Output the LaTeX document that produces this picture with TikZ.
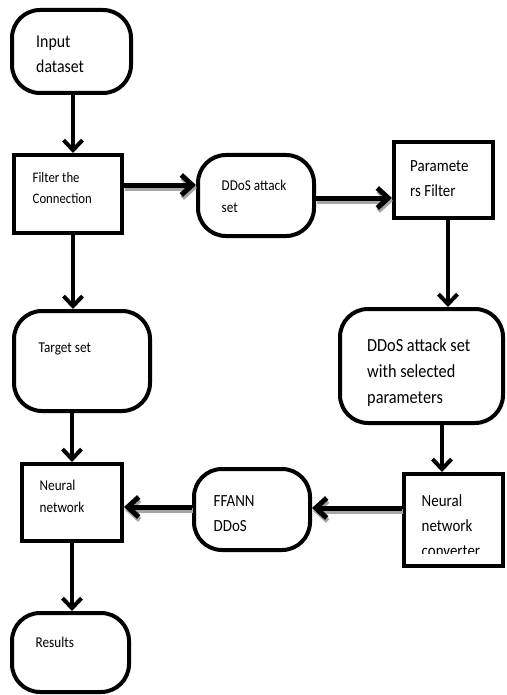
\documentclass[tikz,border=0pt]{standalone}
\usepackage{fontspec}
\setmainfont{Carlito}[FakeStretch=0.88]
\usetikzlibrary{arrows.meta}
\newcommand\myfs[2]{\fontsize{#1}{#2}\selectfont}
\begin{document}
\begin{tikzpicture}[x=1pt,y=-1pt,
  rbox/.style={draw, line width=4pt, rounded corners=28pt, inner sep=0pt},
  sbox/.style={draw, line width=4pt, inner sep=0pt},
  lbl/.style={anchor=base west, inner sep=0pt, align=left},
  varr/.style={line width=4pt, -{Straight Barb[length=10pt,width=19pt]}},
  harr/.style={line width=5pt, -{Straight Barb[length=11pt,width=20pt]}},
  hshadow/.style={harr, draw=black!35, transform canvas={xshift=1pt,yshift=-3pt}}
]
\fill[white] (0,0) rectangle (506,695);
\useasboundingbox (0,0) rectangle (506,695);

% boxes
\node[rbox, minimum width=119pt, minimum height=83pt] (inp) at (71.5,51.5) {};
\node[sbox, minimum width=108pt, minimum height=78pt] (filt) at (68,194) {};
\node[rbox, minimum width=116pt, minimum height=81pt] (ddos) at (256,195.5) {};
\node[sbox, minimum width=99pt, minimum height=76pt] (param) at (443.5,180) {};
\node[rbox, minimum width=136pt, minimum height=100pt] (target) at (82,361) {};
\node[rbox, minimum width=163pt, minimum height=114pt] (dsel) at (421.5,366) {};
\node[sbox, minimum width=100pt, minimum height=77pt] (nn) at (72,502.5) {};
\node[rbox, minimum width=116pt, minimum height=81pt] (ffann) at (252,509.5) {};
\node[sbox, minimum width=99pt, minimum height=92pt] (conv) at (453.5,520) {};
\node[rbox, minimum width=117pt, minimum height=79pt] (res) at (70.5,652.5) {};

% texts (anchor = baseline of the last line)
\node[lbl, font=\myfs{18}{25}] (tinp) at (36,73) {Input\\dataset};
\node[lbl, font=\myfs{14.5}{21}] (tfilt) at (32.5,203.5) {Filter the\\Connection};
\node[lbl, font=\myfs{15}{22}] (tddos) at (221.5,212) {DDoS attack\\set};
\node[lbl, font=\myfs{17}{24.5}] (tparam) at (410,196) {Paramete\\rs Filter};
\node[lbl, font=\myfs{15}{22}] (ttarget) at (38.5,352.5) {Target set};
\node[lbl, font=\myfs{18.5}{26}] (tdsel) at (367,403.5) {DDoS attack set\\with selected\\parameters};
\node[lbl, font=\myfs{15}{22.7}] (tnn) at (39.5,512.7) {Neural\\network};
\node[lbl, font=\myfs{17}{25}] (tffann) at (213.5,531) {FFANN\\DDoS};
\begin{scope}
  \clip (402,472) rectangle (505,553.5);
  \node[lbl, font=\myfs{17}{25}] (tconv) at (421.5,556) {Neural\\network\\converter};
\end{scope}
\node[lbl, font=\myfs{15}{22}] (tres) at (35.5,647) {Results};

% vertical arrows
\draw[varr] ([xshift=1.5pt]inp.south) -- ([xshift=1.5pt]inp.south |- filt.north);
\draw[varr] ([xshift=5pt]filt.south) -- ([xshift=5pt]filt.south |- target.north);
\draw[varr] (nn.north |- target.south) -- (nn.north);
\draw[varr] (nn.south) -- (nn.south |- res.north);
\draw[varr] ([xshift=4.5pt]param.south) -- ([xshift=4.5pt]param.south |- dsel.north);
\draw[varr] ([xshift=20.5pt]dsel.south) -- ([xshift=20.5pt]dsel.south |- conv.north);

% horizontal arrows with shadows
\draw[hshadow] ([yshift=9pt]filt.east) -- ([yshift=9pt]filt.east -| ddos.west);
\draw[harr] ([yshift=9pt]filt.east) -- ([yshift=9pt]filt.east -| ddos.west);
\draw[hshadow] ([yshift=-2.5pt]ddos.east) -- ([yshift=-2.5pt]ddos.east -| param.west);
\draw[harr] ([yshift=-2.5pt]ddos.east) -- ([yshift=-2.5pt]ddos.east -| param.west);
\draw[hshadow] ([yshift=12pt]conv.west) -- ([yshift=12pt]conv.west -| ffann.east);
\draw[harr] ([yshift=12pt]conv.west) -- ([yshift=12pt]conv.west -| ffann.east);
\draw[hshadow] ([yshift=2.5pt]ffann.west) -- ([yshift=2.5pt]ffann.west -| nn.east);
\draw[harr] ([yshift=2.5pt]ffann.west) -- ([yshift=2.5pt]ffann.west -| nn.east);
\end{tikzpicture}
\end{document}
